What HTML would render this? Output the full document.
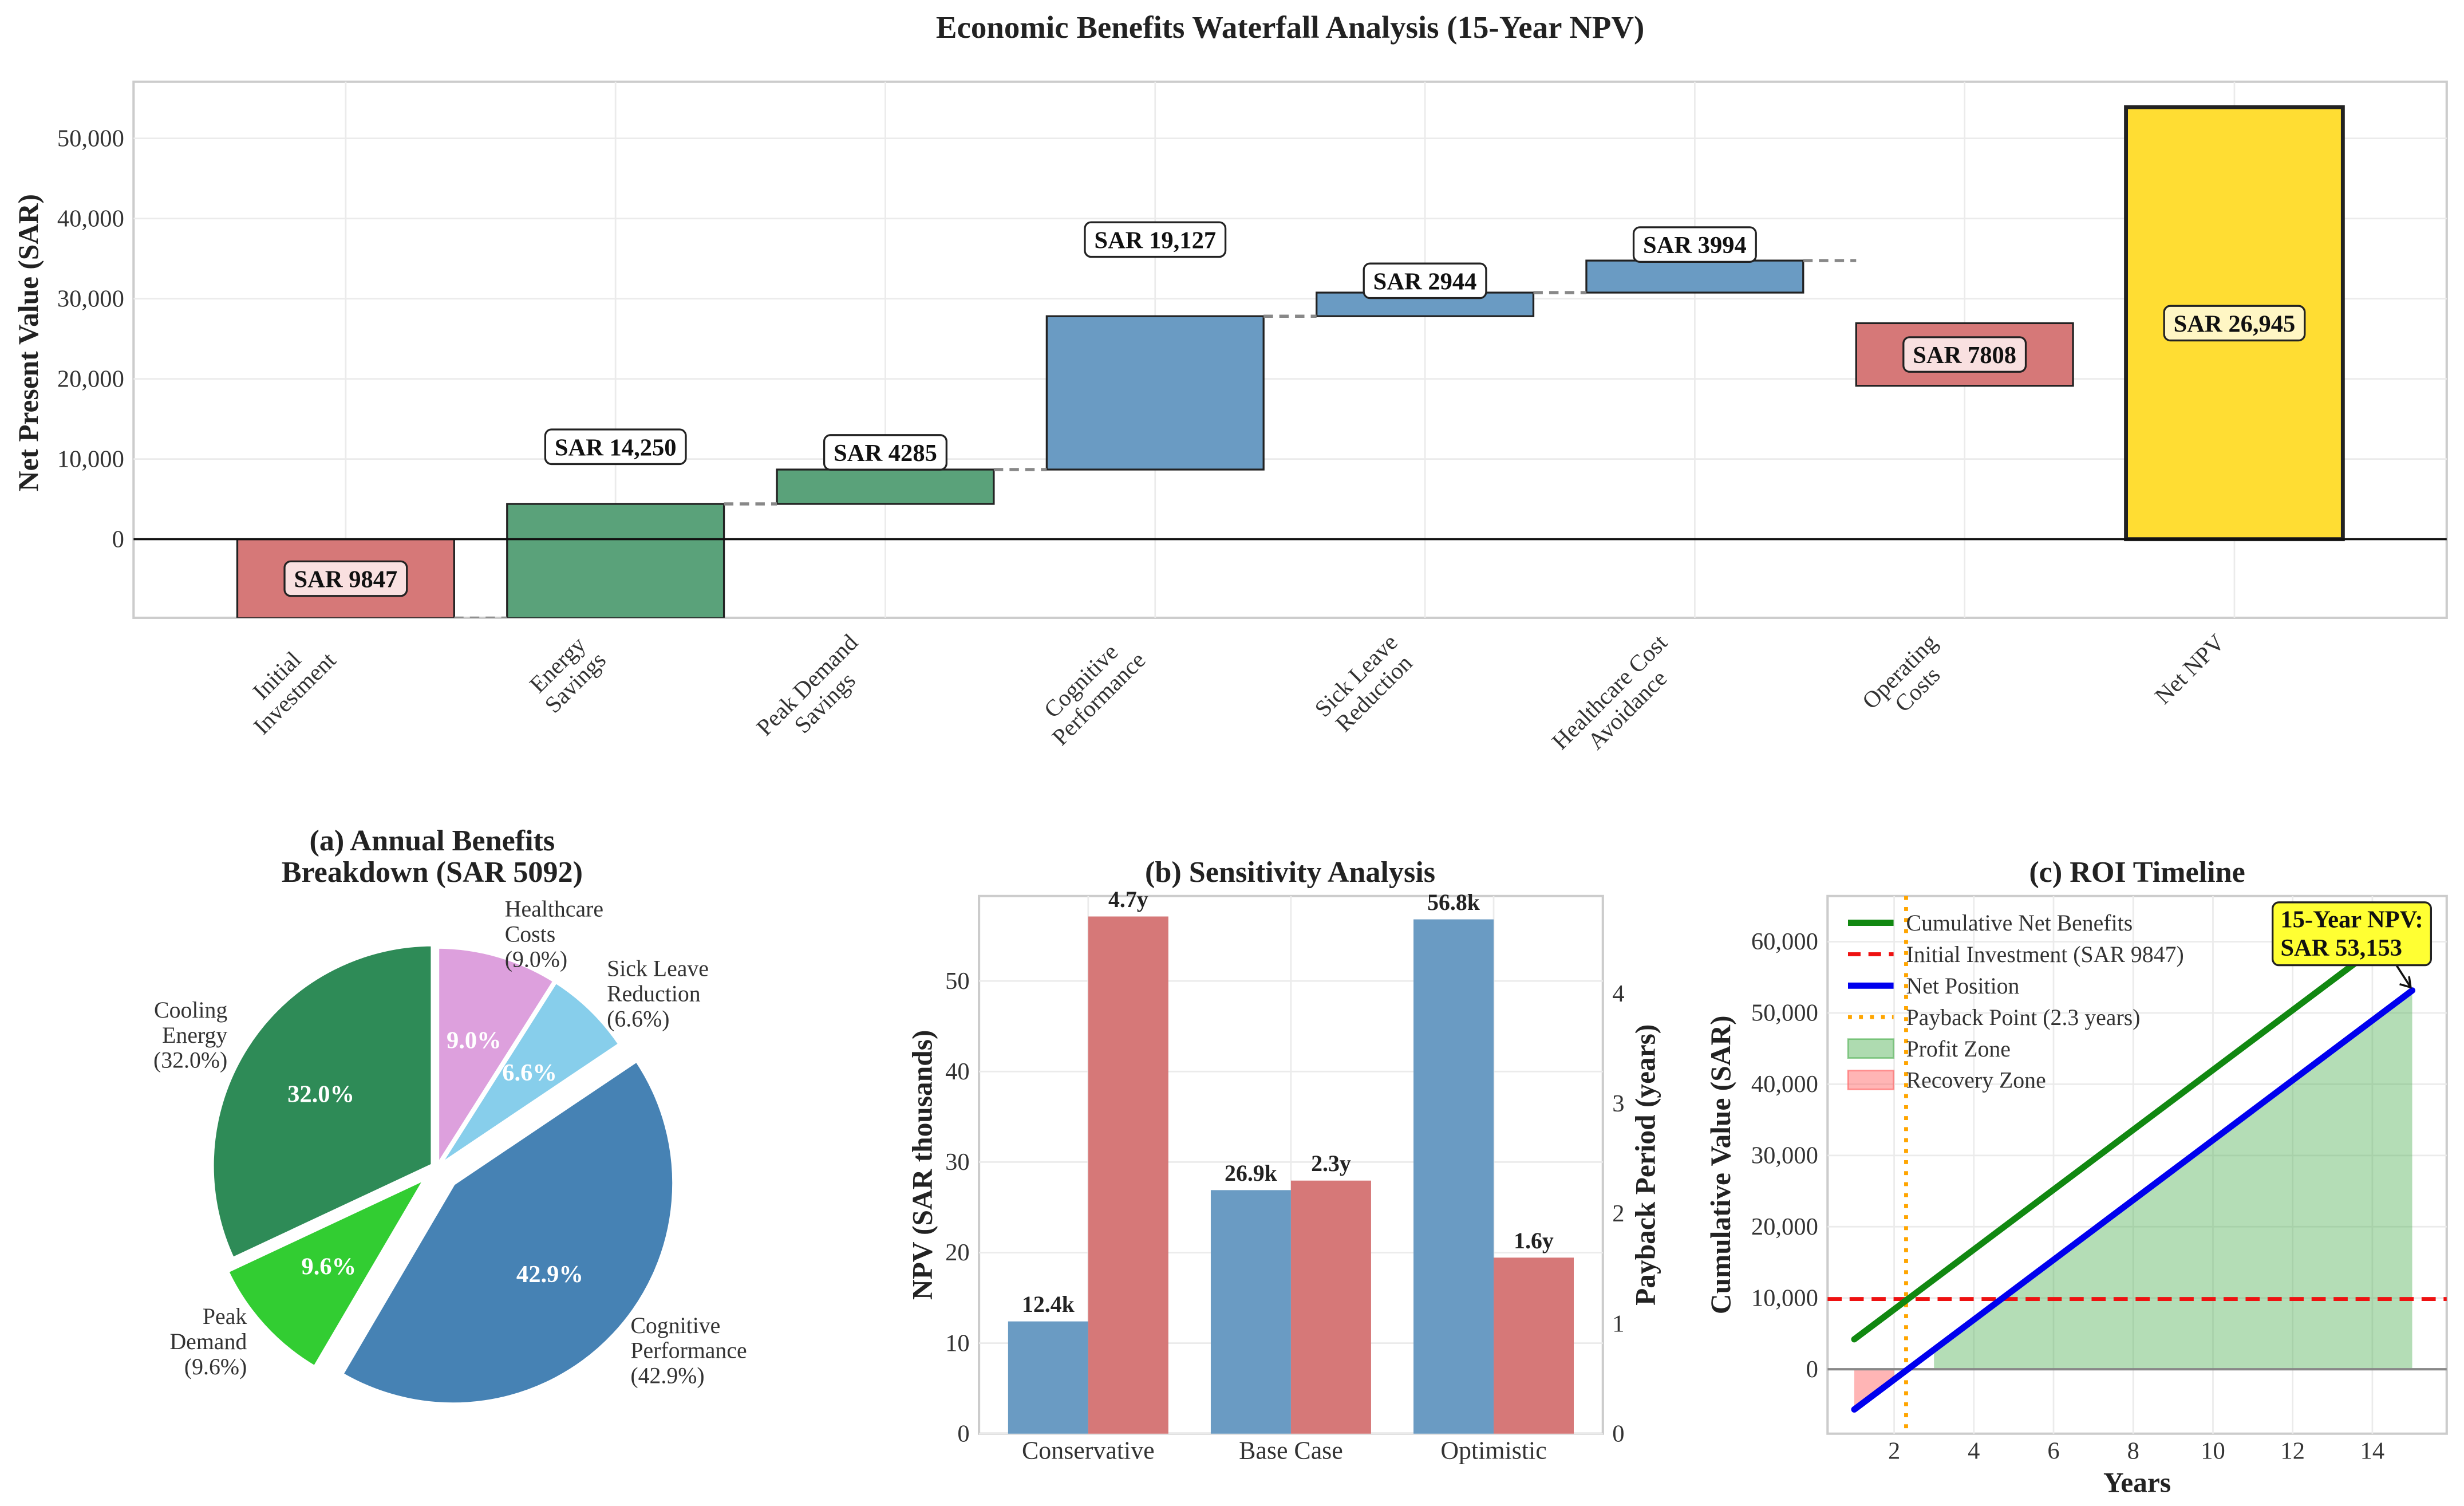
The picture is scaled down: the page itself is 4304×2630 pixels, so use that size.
<!DOCTYPE html>
<html><head><meta charset="utf-8"><style>
html,body{margin:0;padding:0;background:#fff;}
svg{display:block;font-family:"Liberation Serif","DejaVu Serif",serif;}
</style></head><body>
<svg id="root" xmlns="http://www.w3.org/2000/svg" width="4304" height="2630" viewBox="0 0 1568 958" preserveAspectRatio="none">
<rect x="0" y="0" width="1568" height="958" fill="#fff"/>
</svg>
<script>
// ---------- Waterfall data ----------
const wfCategories = ['Initial\nInvestment','Energy\nSavings','Peak Demand\nSavings','Cognitive\nPerformance','Sick Leave\nReduction','Healthcare Cost\nAvoidance','Operating\nCosts','Net NPV'];
const wfValues = [-9847, 14250, 4285, 19127, 2944, 3994, -7808, 26945];
const wfLabels = ['SAR 9847','SAR 14,250','SAR 4285','SAR 19,127','SAR 2944','SAR 3994','SAR 7808','SAR 26,945'];
const wfTicks = [0, 10000, 20000, 30000, 40000, 50000];
const wfTickLabels = ['0','10,000','20,000','30,000','40,000','50,000'];
// ---------- Pie data ----------
const pieNames = ['Cooling\nEnergy','Peak\nDemand','Cognitive\nPerformance','Sick Leave\nReduction','Healthcare\nCosts'];
const pieShares = [32.0, 9.6, 42.9, 6.6, 9.0];
const pieExplode = [0.02, 0.06, 0.1, 0, 0];
// ---------- Sensitivity data ----------
const sensScenarios = ['Conservative','Base Case','Optimistic'];
const sensNPV = [12.4, 26.9, 56.8];
const sensPayback = [4.7, 2.3, 1.6];
const sensNpvTicks = [0,10,20,30,40,50];
const sensPayTicks = [0,1,2,3,4];
// ---------- ROI data ----------
const roiYears = [1,2,3,4,5,6,7,8,9,10,11,12,13,14,15];
const roiCumBenefits = [4200,8400,12600,16800,21000,25200,29400,33600,37800,42000,46200,50400,54600,58800,63000];
const roiNetPosition = [-5647,-1447,2753,6953,11153,15353,19553,23753,27953,32153,36353,40553,44753,48953,53153];
const roiInvestment = 9847;
const roiPayback = 2.3;
const roiYTicks = [0,10000,20000,30000,40000,50000,60000];
const roiYTickLabels = ['0','10,000','20,000','30,000','40,000','50,000','60,000'];
const roiXTicks = [2,4,6,8,10,12,14];

const NS='http://www.w3.org/2000/svg';
const root=document.getElementById('root');
function mk(tag, attrs, parent){const e=document.createElementNS(NS,tag);for(const k in attrs)e.setAttribute(k,attrs[k]);(parent||root).appendChild(e);return e;}
function txt(str, attrs, parent){const e=mk('text',attrs,parent);e.textContent=str;return e;}
function multiline(lines, x, y, lh, attrs, parent){const t=mk('text',Object.assign({x:x,y:y},attrs),parent);lines.forEach((l,i)=>{const s=mk('tspan',{x:x,dy:i?lh:0},t);s.textContent=l;});return t;}
const TICK=15.5, TITLE=19, AXT=18;

// ================= TITLE =================
let e=txt('Economic Benefits Waterfall Analysis (15-Year NPV)',{x:821,y:24,'text-anchor':'middle','font-size':20,'font-weight':'bold',fill:'#222'});



// ================= WATERFALL =================
const W={l:85,r:1557,t:52,b:393};
const wy=v=>343-v*0.0051;
const wx=i=>220+i*171.7;
const bw=138;
e=mk('rect',{x:W.l,y:W.t,width:W.r-W.l,height:W.b-W.t,fill:'#fff',stroke:'#cccccc','stroke-width':1.5});


wfTicks.forEach((t,i)=>{
  e=mk('line',{x1:W.l,x2:W.r,y1:wy(t),y2:wy(t),stroke:'#ebebeb','stroke-width':1});
  
  
  e=txt(wfTickLabels[i],{x:W.l-6,y:wy(t)+5,'text-anchor':'end','font-size':TICK,fill:'#333'});
  
  
});
wfCategories.forEach((c,i)=>{
  e=mk('line',{x1:wx(i),x2:wx(i),y1:W.t,y2:W.b,stroke:'#ebebeb','stroke-width':1});
  
  
});
e=txt('Net Present Value (SAR)',{x:0,y:0,'text-anchor':'middle','font-size':AXT,'font-weight':'bold',fill:'#222',transform:'translate(24,218) rotate(-90)'});



const clip=mk('clipPath',{id:'wfclip'});mk('rect',{x:W.l,y:W.t,width:W.r-W.l,height:W.b-W.t},clip);
const wg=mk('g',{'clip-path':'url(#wfclip)'});
let cum=0; const bars=[];
wfValues.forEach((v,i)=>{
  let bot,top,col,ly,fillLbl='#fff';
  if(i===wfValues.length-1){bot=0;top=2*cum;col='#ffdd33';ly=(bot+top)/2;fillLbl='#fff6c4';}
  else if(i===0){bot=v;top=0;cum=v;col='#d67878';ly=v/2;fillLbl='#f9e0e0';}
  else if(v>0){bot=cum;top=cum+v;cum+=v;ly=top+v/2;col=(i<3)?'#5aa27a':'#6a9bc3';}
  else {cum+=v;top=cum;bot=cum+v;col='#d67878';ly=(top+bot)/2;fillLbl='#f9e0e0';}
  bars.push({bot,top,col,ly,fillLbl,cum});
});
bars.forEach((b,i)=>{
  e=mk('rect',{x:wx(i)-bw/2,y:wy(b.top),width:bw,height:wy(b.bot)-wy(b.top),fill:b.col,stroke:'#222','stroke-width':i===bars.length-1?2.5:1.2},wg);
  
  
});
for(let i=0;i<6;i++){
  e=mk('line',{x1:wx(i)+bw/2,x2:wx(i+1)-bw/2,y1:wy(bars[i].cum),y2:wy(bars[i].cum),stroke:'#888','stroke-width':2,'stroke-dasharray':'6,4'},wg);
  
  
}
e=mk('line',{x1:W.l,x2:W.r,y1:wy(0),y2:wy(0),stroke:'#111','stroke-width':1.3});


bars.forEach((b,i)=>{
  const g=mk('g',{});
  
  
  const t=txt(wfLabels[i],{x:wx(i),y:wy(b.ly)+5.5,'text-anchor':'middle','font-size':15.5,'font-weight':'bold',fill:'#111'},g);
  const w=t.getComputedTextLength();
  const r=mk('rect',{x:wx(i)-w/2-6,y:wy(b.ly)-11,width:w+12,height:22,rx:4,fill:b.fillLbl,stroke:'#222','stroke-width':1.2},g);
  g.insertBefore(r,t);
});
wfCategories.forEach((c,i)=>{
  const outer=mk('g',{});
  
  
  const g=mk('g',{transform:'rotate(-45)'},outer);
  const lines=c.split('\n');
  const ts=lines.map((l,k)=>txt(l,{x:0,y:k*16,'text-anchor':'middle','font-size':15,fill:'#333'},g));
  const bb=outer.getBBox();
  outer.setAttribute('transform',`translate(${wx(i)-3-(bb.x+bb.width)},${400-bb.y})`);
});

// ================= PIE =================
e=multiline(['(a) Annual Benefits','Breakdown (SAR 5092)'],275,541,20,{'text-anchor':'middle','font-size':TITLE,'font-weight':'bold',fill:'#222'});


const pc={x:278,y:743},pr=141;
const pieColors=['#2e8b57','#32cd32','#4682b4','#87ceeb','#dda0dd'];
const total=pieShares.reduce((a,b)=>a+b,0);
let ang=90;
pieShares.forEach((s,i)=>{
  const sweep=s/total*360, a0=ang, a1=ang+sweep, mid=(a0+a1)/2*Math.PI/180;
  ang=a1;
  const cx=pc.x+pieExplode[i]*pr*Math.cos(mid), cy=pc.y-pieExplode[i]*pr*Math.sin(mid);
  const p0={x:cx+pr*Math.cos(a0*Math.PI/180),y:cy-pr*Math.sin(a0*Math.PI/180)};
  const p1={x:cx+pr*Math.cos(a1*Math.PI/180),y:cy-pr*Math.sin(a1*Math.PI/180)};
  e=mk('path',{d:`M${cx},${cy} L${p0.x},${p0.y} A${pr},${pr} 0 ${sweep>180?1:0} 0 ${p1.x},${p1.y} Z`,fill:pieColors[i],stroke:'#fff','stroke-width':3});
  
  
  e=txt(s.toFixed(1)+'%',{x:cx+0.6*pr*Math.cos(mid),y:cy-0.6*pr*Math.sin(mid)+5,'text-anchor':'middle','font-size':15.5,'font-weight':'bold',fill:'#fff'});
  
  
  const lx=cx+1.1*pr*Math.cos(mid), ly=cy-1.1*pr*Math.sin(mid);
  const lines=pieNames[i].split('\n').concat(['('+s.toFixed(1)+'%)']);
  const anchor=Math.cos(mid)<0?'end':'start';
  e=multiline(lines,lx,ly-16+5,16,{'text-anchor':anchor,'font-size':14.5,fill:'#333'});
  
  
});

// ================= SENSITIVITY =================
const S={l:623,r:1020,t:570,b:912};
const sy=v=>912-v*5.76;
const sy2=v=>912-v*70;
const sx=i=>692.5+i*129;
const sbw=51;
e=mk('rect',{x:S.l,y:S.t,width:S.r-S.l,height:S.b-S.t,fill:'#fff',stroke:'#cccccc','stroke-width':1.5});


sensNpvTicks.forEach(t=>{
  e=mk('line',{x1:S.l,x2:S.r,y1:sy(t),y2:sy(t),stroke:'#ebebeb'});
  
  
  e=txt(String(t),{x:S.l-6,y:sy(t)+5,'text-anchor':'end','font-size':TICK,fill:'#333'});
  
  
});
sensPayTicks.forEach(t=>{
  e=txt(String(t),{x:S.r+6,y:sy2(t)+5,'text-anchor':'start','font-size':TICK,fill:'#333'});
  
  
});
sensScenarios.forEach((s,i)=>{
  e=mk('line',{x1:sx(i),x2:sx(i),y1:S.t,y2:S.b,stroke:'#ebebeb'});
  
  
});
sensScenarios.forEach((s,i)=>{
  e=mk('rect',{x:sx(i)-sbw,y:sy(sensNPV[i]),width:sbw,height:912-sy(sensNPV[i]),fill:'#6a9bc3'});
  
  
  e=mk('rect',{x:sx(i),y:sy2(sensPayback[i]),width:sbw,height:912-sy2(sensPayback[i]),fill:'#d67878'});
  
  
  e=txt(sensNPV[i].toFixed(1)+'k',{x:sx(i)-sbw/2,y:sy(sensNPV[i])-6,'text-anchor':'middle','font-size':14.5,'font-weight':'bold',fill:'#222'});
  
  
  e=txt(sensPayback[i].toFixed(1)+'y',{x:sx(i)+sbw/2,y:sy2(sensPayback[i])-6,'text-anchor':'middle','font-size':14.5,'font-weight':'bold',fill:'#222'});
  
  
  e=txt(s,{x:sx(i),y:928,'text-anchor':'middle','font-size':16,fill:'#333'});
  
  
});
e=txt('(b) Sensitivity Analysis',{x:821,y:561,'text-anchor':'middle','font-size':TITLE,'font-weight':'bold',fill:'#222'});


e=txt('NPV (SAR thousands)',{x:0,y:0,'text-anchor':'middle','font-size':AXT,'font-weight':'bold',fill:'#222',transform:'translate(593,741) rotate(-90)'});


e=txt('Payback Period (years)',{x:0,y:0,'text-anchor':'middle','font-size':AXT,'font-weight':'bold',fill:'#222',transform:'translate(1053,741) rotate(-90)'});



// ================= ROI =================
const R={l:1163,r:1557,t:570,b:912};
const ry=v=>871-v*0.004533;
const rx=t=>1180+(t-1)*25.36;
e=mk('rect',{x:R.l,y:R.t,width:R.r-R.l,height:R.b-R.t,fill:'#fff',stroke:'#cccccc','stroke-width':1.5});


roiYTicks.forEach((t,i)=>{
  e=mk('line',{x1:R.l,x2:R.r,y1:ry(t),y2:ry(t),stroke:'#ebebeb'});
  
  
  e=txt(roiYTickLabels[i],{x:R.l-6,y:ry(t)+5,'text-anchor':'end','font-size':TICK,fill:'#333'});
  
  
});
roiXTicks.forEach(t=>{
  e=mk('line',{x1:rx(t),x2:rx(t),y1:R.t,y2:R.b,stroke:'#ebebeb'});
  
  
  e=txt(String(t),{x:rx(t),y:928,'text-anchor':'middle','font-size':TICK,fill:'#333'});
  
  
});
let pts=[];roiYears.forEach((t,i)=>{if(roiNetPosition[i]>0)pts.push([t,roiNetPosition[i]]);});
let d=`M${rx(pts[0][0])},${ry(0)} `+pts.map(p=>`L${rx(p[0])},${ry(p[1])}`).join(' ')+` L${rx(pts[pts.length-1][0])},${ry(0)} Z`;
e=mk('path',{d:d,fill:'#4caf50','fill-opacity':0.42});


let neg=[];roiYears.forEach((t,i)=>{if(roiNetPosition[i]<0)neg.push([t,roiNetPosition[i]]);});
d=neg.map((p,k)=>`${k?'L':'M'}${rx(p[0])},${ry(p[1])}`).join(' ')+' '+neg.slice().reverse().map(p=>`L${rx(p[0])},${ry(0)}`).join(' ')+' Z';
e=mk('path',{d:d,fill:'#ff5a5a','fill-opacity':0.45});


e=mk('line',{x1:R.l,x2:R.r,y1:ry(0),y2:ry(0),stroke:'#888','stroke-width':1.5});


e=mk('line',{x1:R.l,x2:R.r,y1:ry(roiInvestment),y2:ry(roiInvestment),stroke:'#ee1111','stroke-width':2.5,'stroke-dasharray':'9,5'});


e=mk('line',{x1:rx(roiPayback),x2:rx(roiPayback),y1:R.t,y2:R.b,stroke:'#ffa500','stroke-width':2.5,'stroke-dasharray':'2.5,4.5'});


e=mk('polyline',{points:roiYears.map((t,i)=>`${rx(t)},${ry(roiCumBenefits[i])}`).join(' '),fill:'none',stroke:'#118811','stroke-width':4,'stroke-linecap':'round'});


e=mk('polyline',{points:roiYears.map((t,i)=>`${rx(t)},${ry(roiNetPosition[i])}`).join(' '),fill:'none',stroke:'#0000ee','stroke-width':4,'stroke-linecap':'round'});


const last=roiYears.length-1;
const ax=rx(roiYears[last]), ay=ry(roiNetPosition[last]);
e=mk('path',{d:`M${ax-10},${ay-16} L${ax-1},${ay-2} M${ax-2},${ay-9} L${ax-1},${ay-2} L${ax-8},${ay-4}`,fill:'none',stroke:'#111','stroke-width':1.3});


const ag=mk('g',{});


const ar=mk('rect',{x:1456,y:574,width:90,height:40,rx:4,fill:'#ffff33',stroke:'#222','stroke-width':1.2},ag);
const at=multiline(['15-Year NPV:','SAR '+roiNetPosition[last].toLocaleString('en-US')],1461,590,18,{'font-size':15.5,'font-weight':'bold',fill:'#111'},ag);
const aw=at.getBBox().width;
ar.setAttribute('x',1547-aw-10);ar.setAttribute('width',aw+10);
at.setAttribute('x',1547-aw-5);at.querySelectorAll('tspan').forEach(s=>s.setAttribute('x',1547-aw-5));
const leg=[['Cumulative Net Benefits','line','#118811',''],['Initial Investment (SAR 9847)','line','#ee1111','8,5'],['Net Position','line','#0000ee',''],['Payback Point (2.3 years)','line','#ffa500','2.5,4.5'],['Profit Zone','patch','#4caf50'],['Recovery Zone','patch','#ff5a5a']];
leg.forEach((L,i)=>{
  const y=587+i*20;
  const g=mk('g',{});
  
  
  if(L[1]==='line') mk('line',{x1:1176,x2:1205,y1:y,y2:y,stroke:L[2],'stroke-width':L[3]?2.5:4,'stroke-dasharray':L[3]||'none'},g);
  else mk('rect',{x:1176,y:y-6,width:29,height:12,fill:L[2],'fill-opacity':0.45,stroke:L[2],'stroke-opacity':0.6},g);
  txt(L[0],{x:1213,y:y+5,'font-size':14.5,fill:'#333'},g);
});
e=txt('(c) ROI Timeline',{x:1360,y:561,'text-anchor':'middle','font-size':TITLE,'font-weight':'bold',fill:'#222'});


e=txt('Years',{x:1360,y:949,'text-anchor':'middle','font-size':AXT,'font-weight':'bold',fill:'#222'});


e=txt('Cumulative Value (SAR)',{x:0,y:0,'text-anchor':'middle','font-size':AXT,'font-weight':'bold',fill:'#222',transform:'translate(1101,741) rotate(-90)'});


</script>
</body></html>
